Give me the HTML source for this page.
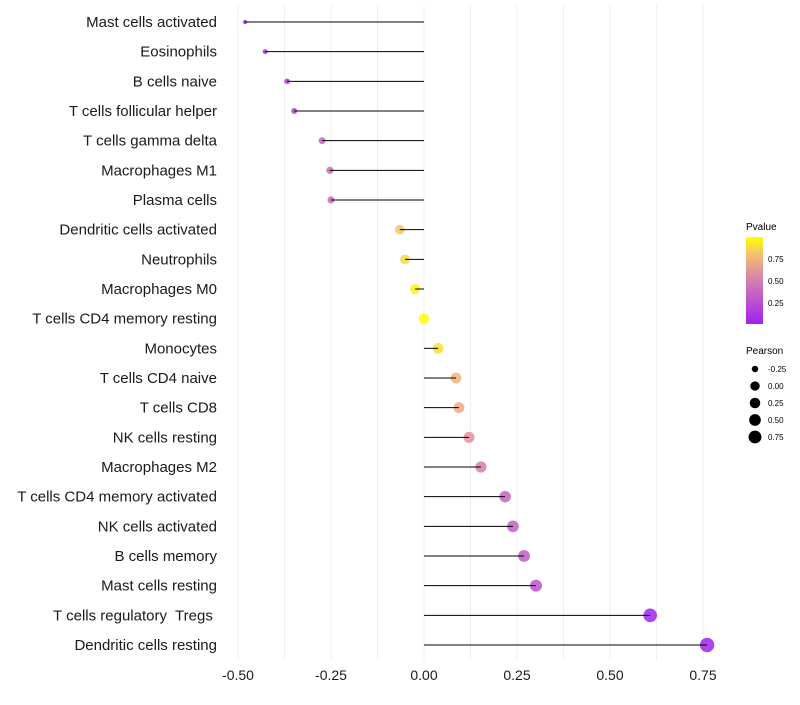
<!DOCTYPE html>
<html><head><meta charset="utf-8"><style>
body{margin:0;background:#fff;}
svg{font-family:"Liberation Sans",sans-serif;}
</style></head><body>
<svg id="c" width="800" height="700">
<defs><linearGradient id="pg" x1="0" y1="1" x2="0" y2="0">
<stop offset="0" stop-color="#a020f0"/><stop offset="0.5" stop-color="#d47fb0"/><stop offset="0.8" stop-color="#f5c070"/><stop offset="1" stop-color="#ffff00"/></linearGradient></defs>
<g id="grid"></g><g id="dots"></g><g id="marks"></g><g id="labels"></g><g id="xt"></g>
<g>
<text x="746" y="230" font-size="10">Pvalue</text>
<rect x="746" y="237" width="17" height="87" fill="url(#pg)"/>
<text x="768" y="262" font-size="8">0.75</text>
<text x="768" y="284" font-size="8">0.50</text>
<text x="768" y="306" font-size="8">0.25</text>
</g>
<g id="sleg">
<text x="746" y="354" font-size="10">Pearson</text>
</g>
</svg>
<script>
const cats=["Mast cells activated","Eosinophils","B cells naive","T cells follicular helper","T cells gamma delta","Macrophages M1","Plasma cells","Dendritic cells activated","Neutrophils","Macrophages M0","T cells CD4 memory resting","Monocytes","T cells CD4 naive","T cells CD8","NK cells resting","Macrophages M2","T cells CD4 memory activated","NK cells activated","B cells memory","Mast cells resting","T cells regulatory  Tregs ","Dendritic cells resting"];
const pearson=[-0.481,-0.427,-0.368,-0.349,-0.274,-0.253,-0.25,-0.065,-0.051,-0.024,0.0,0.038,0.086,0.094,0.121,0.153,0.218,0.239,0.269,0.301,0.608,0.761];
const pvals=[0.02,0.05,0.12,0.15,0.35,0.38,0.38,0.8,0.87,0.95,0.99,0.9,0.75,0.7,0.58,0.5,0.35,0.32,0.3,0.26,0.02,0.01];
const xticks=[-0.5,-0.25,0,0.25,0.5,0.75];
const xtickLabels=["-0.50","-0.25","0.00","0.25","0.50","0.75"];
const sizeLegend=[-0.25,0,0.25,0.5,0.75];
const NS="http://www.w3.org/2000/svg";
const X=v=>424+v*372, Y=i=>22+i*29.667, R=v=>v<0?Math.max(1.8,5.2+6.4*v):5.2+2.6*v;
function col(p){const s=[[0,[160,32,240]],[0.5,[214,127,170]],[0.75,[242,180,120]],[1,[255,255,0]]];
for(let k=1;k<s.length;k++){if(p<=s[k][0]){const t=(p-s[k-1][0])/(s[k][0]-s[k-1][0]);const a=s[k-1][1],b=s[k][1];return `rgb(${a.map((c,j)=>Math.round(c+(b[j]-c)*t)).join(',')})`;}}return "rgb(255,255,0)";}
function mk(t,a,p){const e=document.createElementNS(NS,t);for(const k in a)e.setAttribute(k,a[k]);p.appendChild(e);return e;}
const g=document.getElementById('grid');
for(let v=-0.5;v<=0.76;v+=0.125){const l=mk('line',{x1:X(v),x2:X(v),y1:5,y2:660,stroke:'#efefef','stroke-width':1},g);

}
const m=document.getElementById('marks'),dg=document.getElementById('dots'),lb=document.getElementById('labels');
cats.forEach((c,i)=>{const y=Y(i);
const d=mk('circle',{cx:X(pearson[i]),cy:y,r:R(pearson[i]),fill:col(pvals[i]),'fill-opacity':0.85},dg);


const ln=mk('line',{x1:X(0),x2:X(pearson[i]),y1:y,y2:y,stroke:'#000','stroke-width':1},m);


const t=mk('text',{x:217,y:y+5,'font-size':15,'text-anchor':'end',fill:'#1a1a1a'},lb);t.style.whiteSpace='pre';t.textContent=c;

});
const xt=document.getElementById('xt');
xticks.forEach((v,i)=>{const t=mk('text',{x:X(v),y:680,'font-size':14,'text-anchor':'middle',fill:'#1a1a1a'},xt);t.textContent=xtickLabels[i];

});
const sl=document.getElementById('sleg');
sizeLegend.forEach((v,i)=>{const y=369+i*17;
const c=mk('circle',{cx:755,cy:y,r:R(v)*0.9,fill:'#000'},sl);


const t=mk('text',{x:768,y:y+3,'font-size':8},sl);t.textContent=v.toFixed(2);

});
</script>
</body></html>
